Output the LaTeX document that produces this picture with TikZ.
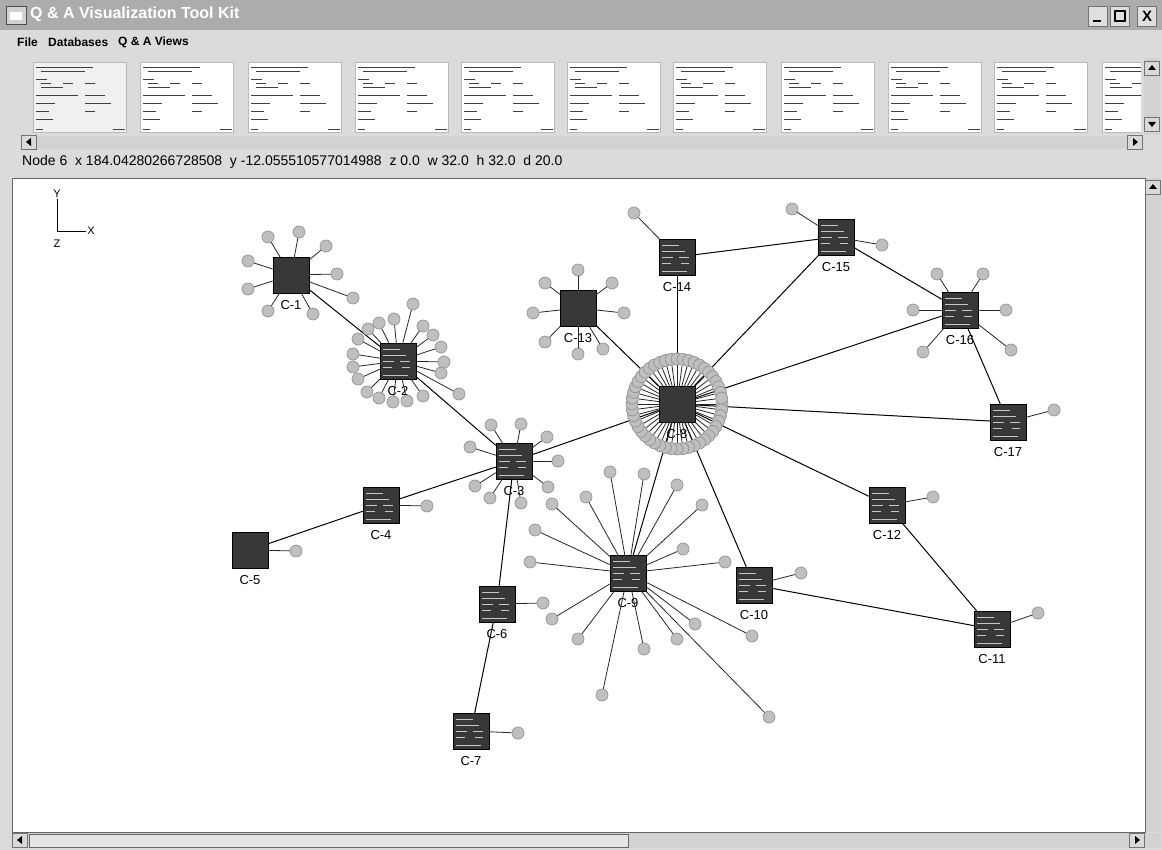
\documentclass[tikz,border=0pt]{standalone}
\usepackage{fontspec}
\setmainfont{Liberation Sans}
\usetikzlibrary{positioning}
\begin{document}
\begin{tikzpicture}
[x=1pt,y=-1pt,
  cardDecorate/.style={shape=rectangle,minimum size=36pt,inner sep=0pt,fill=black!78,draw=black},
  leafDecorate/.style={shape=circle,minimum size=12pt,inner sep=0pt,fill=gray!50,draw=gray!85,line width=0.7pt},
  edgeDecorate/.style={draw=black,line width=1pt},
  spokeDecorate/.style={draw=black!85,line width=0.8pt},
  labelDecorate/.style={font=\fontsize{13}{13}\selectfont,inner sep=0pt},
  thumbDecorate/.style={fill=white,draw=gray!55},
  buttonDecorate/.style={shape=rectangle,minimum width=15pt,minimum height=14pt,inner sep=0pt,fill=gray!30,draw=black!55},
  menuDecorate/.style={anchor=west,inner sep=0pt,font=\bfseries\fontsize{12}{12}\selectfont}]
\useasboundingbox (0,0) rectangle (1162,850);
%% window frame
\fill[gray!28] (0,0) rectangle (1162,850);
\fill[gray!65] (0,0) rectangle (1162,30);
\node[shape=rectangle,minimum width=20pt,minimum height=18pt,inner sep=0pt,fill=gray!35,draw=black!70] (icon) at (16,15) {};
\fill[white] ([shift={(-6,-3)}]icon.center) rectangle ([shift={(6,5)}]icon.center);
\node[anchor=west,inner sep=0pt,text=white,font=\bfseries\fontsize{16}{16}\selectfont] (title) at (30,14) {Q \& A Visualization Tool Kit};
\foreach \btnname/\x in {minbtn/1098, maxbtn/1120, closebtn/1147}
  \node[buttonDecorate,minimum width=19pt,minimum height=20pt,fill=gray!25] (\btnname) at (\x,16) {};
\draw[line width=2pt] ([shift={(-5,5)}]minbtn.center) -- ([shift={(3,5)}]minbtn.center);
\draw[line width=1.2pt] ([shift={(-5,-5)}]maxbtn.center) rectangle ([shift={(5,5)}]maxbtn.center);
\node[font=\bfseries\fontsize{15}{15}\selectfont] at (closebtn) {X};
%% menu bar
\node[menuDecorate] (file) at (17,42) {File};
\node[menuDecorate] (dbs) at (48,42) {Databases};
\node[menuDecorate] (views) at (118,42) {Q \& A Views};
%% thumbnail strip
\begin{scope}
\clip (20,55) rectangle (1141,134);
\foreach \tx/\shade in {33/gray!12,140/white,248/white,355/white,461/white,567/white,673/white,781/white,888/white,994/white,1102/white}
{
  \begin{scope}[shift={(\tx,62)}]
    \draw[thumbDecorate,fill=\shade] (0,0) rectangle (93,70);
    \foreach \xa/\ya/\xb in {3/5/60, 8/9/52, 3/17/14, 8/21/18, 30/21/40, 52/21/62, 8/25/30,
      3/33/45, 52/33/72, 3/41/22, 52/41/78, 3/49/16, 52/49/62, 3/57/20, 3/67/10, 80/67/92}
      \draw[black!75,line width=0.8pt] (\xa,\ya) -- (\xb,\ya);
  \end{scope}
}
\end{scope}
\fill[gray!35] (22,136) rectangle (1143,149);
\node[buttonDecorate] (stripleft) at (29,142) {};
\node[buttonDecorate] (stripright) at (1135,142) {};
\fill[black] ([shift={(-3,0)}]stripleft.center) -- ([shift={(2,-4)}]stripleft.center) -- ([shift={(2,4)}]stripleft.center) -- cycle;
\fill[black] ([shift={(3,0)}]stripright.center) -- ([shift={(-2,-4)}]stripright.center) -- ([shift={(-2,4)}]stripright.center) -- cycle;
\fill[gray!35] (1144,58) rectangle (1160,135);
\node[buttonDecorate] (stripup) at (1152,68) {};
\node[buttonDecorate] (stripdown) at (1152,124) {};
\fill[black] ([shift={(0,-3)}]stripup.center) -- ([shift={(-4,2)}]stripup.center) -- ([shift={(4,2)}]stripup.center) -- cycle;
\fill[black] ([shift={(0,3)}]stripdown.center) -- ([shift={(-4,-2)}]stripdown.center) -- ([shift={(4,-2)}]stripdown.center) -- cycle;
%% status line
\node[anchor=west,inner sep=0pt,font=\fontsize{14}{14}\selectfont] (status) at (22,162)
  {Node 6\ \ x 184.04280266728508\ \ y -12.055510577014988\ \ z 0.0\ \ w 32.0\ \ h 32.0\ \ d 20.0};
%% canvas and its scroll bars
\fill[white] (12,178) rectangle (1145,832);
\draw[black!60] (12,178) rectangle (1145,832);
\fill[gray!35] (1146,178) rectangle (1161,832);
\node[buttonDecorate] (canvasup) at (1153,187) {};
\fill[black] ([shift={(0,-3)}]canvasup.center) -- ([shift={(-4,2)}]canvasup.center) -- ([shift={(4,2)}]canvasup.center) -- cycle;
\fill[gray!35] (12,833) rectangle (1161,848);
\draw[black!60,fill=gray!20] (29,834) rectangle (628,847);
\node[buttonDecorate] (canvasleft) at (20,840) {};
\node[buttonDecorate] (canvasright) at (1137,840) {};
\fill[black] ([shift={(-3,0)}]canvasleft.center) -- ([shift={(2,-4)}]canvasleft.center) -- ([shift={(2,4)}]canvasleft.center) -- cycle;
\fill[black] ([shift={(3,0)}]canvasright.center) -- ([shift={(-2,-4)}]canvasright.center) -- ([shift={(-2,4)}]canvasright.center) -- cycle;
%% axis marker
\coordinate (origin) at (57,231);
\node[font=\fontsize{11}{11}\selectfont,inner sep=1pt] (ylab) at (57,194) {Y};
\node[font=\fontsize{11}{11}\selectfont,inner sep=1pt] (xlab) at (91,231) {X};
\node[font=\fontsize{11}{11}\selectfont,inner sep=1pt] (zlab) at (57,244) {Z};
\draw[black,line width=0.8pt] (ylab) -- (origin) -- (xlab);
%% cards
\foreach \nodename/\x/\y/\lab in {
  c1/291/275/C-1, c2/398/361/C-2, c3/514/461/C-3, c4/381/505/C-4, c5/250/550/C-5,
  c6/497/604/C-6, c7/471/731/C-7, c8/677/404/C-8, c9/628/573/C-9, c10/754/585/C-10,
  c11/992/629/C-11, c12/887/505/C-12, c13/578/308/C-13, c14/677/257/C-14,
  c15/836/237/C-15, c16/960/310/C-16, c17/1008/422/C-17}
{
  \node[cardDecorate] (\nodename) at (\x,\y) {};
  \node[labelDecorate,below=7pt of \nodename] {\lab};
}
%% card contents
\foreach \nodename in {c2,c3,c4,c6,c7,c9,c10,c11,c12,c14,c15,c16,c17}
  \foreach \xa/\ya/\xb in {-15/-12/2, -15/-6/8, -15/0/-4, 2/0/12, -15/6/-6, 4/6/12, -15/14/10}
    \draw[gray!45,line width=0.8pt] ([shift={(\xa,\ya)}]\nodename.center) -- ([shift={(\xb,\ya)}]\nodename.center);
%% edges between cards
\foreach \startnode/\endnode in {
  c1/c2, c2/c3, c3/c4, c4/c5, c3/c6, c6/c7, c3/c8, c8/c9, c8/c10, c8/c12,
  c12/c11, c10/c11, c8/c17, c8/c16, c8/c15, c8/c14, c8/c13, c14/c15, c15/c16, c16/c17}
  \draw[edgeDecorate] (\startnode) -- (\endnode);
%% leaves
\foreach \nodename/\leaves in {
  c1/{268/237,299/232,326/246,337/274,353/298,313/314,268/311,248/289,248/261},
  c2/{413/304,394/319,379/323,368/329,358/339,353/354,353/367,358/379,367/392,379/398,
      393/402,407/401,423/396,459/394,441/373,444/362,441/347,433/335,423/326},
  c3/{491/425,521/424,547/437,558/461,548/487,521/503,490/498,475/486,470/447},
  c4/{427/506}, c5/{296/551}, c6/{543/603}, c7/{518/733},
  c9/{610/472,644/474,677/485,702/505,683/549,725/562,586/497,552/504,535/530,
      530/562,552/619,578/639,644/649,677/639,695/624,752/636,602/695,769/717},
  c10/{801/573}, c11/{1038/613}, c12/{933/497},
  c13/{578/270,545/283,612/283,533/313,624/313,545/342,578/354,603/349},
  c14/{634/213}, c15/{792/209,882/245},
  c16/{937/274,983/274,913/310,1006/310,923/352,1011/350}, c17/{1054/410}}
{
  \foreach \x/\y [count=\i] in \leaves
  {
    \node[leafDecorate] (\nodename-l\i) at (\x,\y) {};
    \draw[spokeDecorate] (\nodename) -- (\nodename-l\i);
  }
}
%% ring of leaves round C-8
\foreach \a [count=\i] in {0,7.5,...,352.5}
{
  \node[leafDecorate] (c8-l\i) at ({677+45*cos(\a)},{404+45*sin(\a)}) {};
  \draw[spokeDecorate] (c8) -- (c8-l\i);
}
\end{tikzpicture}
\end{document}
